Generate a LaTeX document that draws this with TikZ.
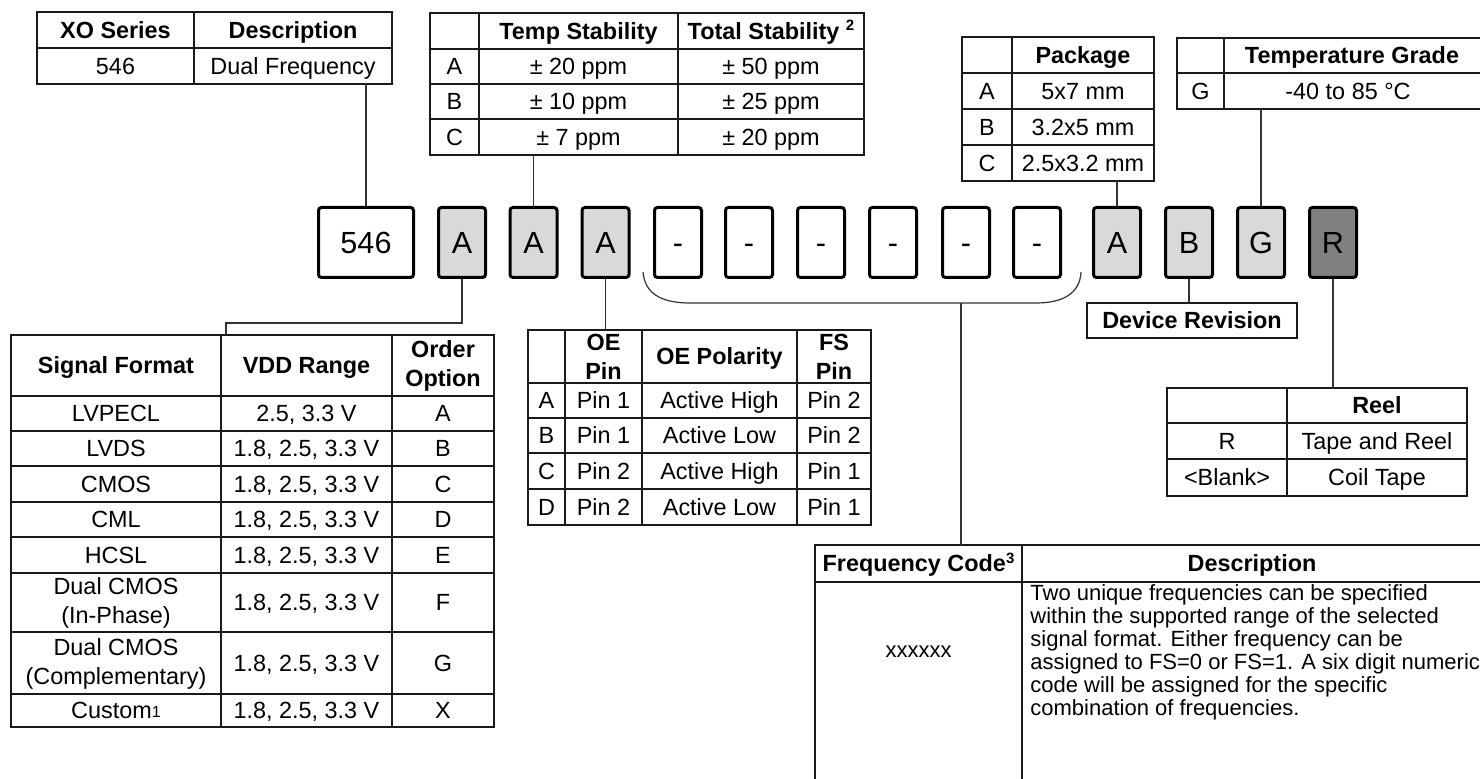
\documentclass[tikz,border=0pt]{standalone}
\usepackage{fontspec}
\setmainfont{Liberation Sans}
\usetikzlibrary{fit}
\definecolor{boxgray}{HTML}{D9D9D9}
\definecolor{boxdark}{HTML}{808080}
\definecolor{linec}{HTML}{1A1A1A}
\definecolor{connc}{HTML}{333333}
\newcommand\mybody{\fontsize{11.7}{14.5}\selectfont}
\newcommand\mycode{\fontsize{15.3}{18}\selectfont}
\newcommand\mydesc{\fontsize{11}{11.5}\selectfont}
\newcommand\mysup[1]{{\fontsize{7.5}{8}\selectfont\raisebox{4.2pt}{#1}}}
\begin{document}
\begin{tikzpicture}[x=0.5pt,y=-0.5pt,
  tline/.style={draw=linec,line width=0.7pt},
  tbox/.style={tline,inner sep=0pt,outer sep=0pt,fit={#1}},
  conn/.style={draw=connc,line width=0.6pt},
  cell/.style={inner sep=0pt,font=\mybody,text height=8.4pt,text depth=0pt},
  mcell/.style={inner sep=0pt,font=\mybody,align=center},
  hcell/.style={cell,font=\mybody\bfseries},
  mhcell/.style={mcell,font=\mybody\bfseries},
  code/.style={draw=black,line width=1.5pt,rounded corners=1.5pt,minimum width=23.5pt,minimum height=35pt,inner sep=0pt,font=\mycode,text height=10.9pt,text depth=0pt},
  gcode/.style={code,fill=boxgray}]
\clip (0,0) rectangle (1480,779);
\fill[white] (0,0) rectangle (1480,779);

% ---------- code boxes ----------
\node[code,minimum width=47.5pt] (b0) at (366,242.5) {546};
\node[gcode] (b1) at (462,242.5) {A};
\node[gcode] (b2) at (533.5,242.5) {A};
\node[gcode] (b3) at (605.5,242.5) {A};
\node[code] (d1) at (678,242.5) {-};
\node[code] (d2) at (749,242.5) {-};
\node[code] (d3) at (821,242.5) {-};
\node[code] (d4) at (893,242.5) {-};
\node[code] (d5) at (966,242.5) {-};
\node[code] (d6) at (1037,242.5) {-};
\node[gcode] (bA) at (1117,242.5) {A};
\node[gcode] (bB) at (1189,242.5) {B};
\node[gcode] (bG) at (1261,242.5) {G};
\node[code,fill=boxdark] (bR) at (1333,242.5) {R};

% ---------- XO series table ----------
\node[tbox={(37,12)(392,84)}] (xo) {};
\draw[tline] (194,12)--(194,84) (37,48)--(392,48);
\node[hcell] (xoh1) at (115.5,30) {XO Series};
\node[hcell] (xoh2) at (293,30) {Description};
\node[cell] (xo1) at (115.5,66) {546};
\node[cell] (xo2) at (293,66) {Dual Frequency};

% ---------- stability table ----------
\node[tbox={(430,13)(864,155)}] (ts) {};
\draw[tline] (479,13)--(479,155) (678,13)--(678,155)
  (430,49)--(864,49) (430,84)--(864,84) (430,119)--(864,119);
\node[hcell] (tsh1) at (578.5,31) {Temp Stability};
\node[hcell] (tsh2) at (771,31) {Total Stability \mysup{2}};
\node[cell] (tsa) at (454.5,66.5) {A};
\node[cell] (tsa1) at (578.5,66.5) {± 20 ppm};
\node[cell] (tsa2) at (771,66.5) {± 50 ppm};
\node[cell] (tsb) at (454.5,101.5) {B};
\node[cell] (tsb1) at (578.5,101.5) {± 10 ppm};
\node[cell] (tsb2) at (771,101.5) {± 25 ppm};
\node[cell] (tsc) at (454.5,137) {C};
\node[cell] (tsc1) at (578.5,137) {± 7 ppm};
\node[cell] (tsc2) at (771,137) {± 20 ppm};

% ---------- package table ----------
\node[tbox={(962,37)(1154,181)}] (pkg) {};
\draw[tline] (1012,37)--(1012,181) (962,73)--(1154,73) (962,109)--(1154,109) (962,145)--(1154,145);
\node[hcell] (pkgh) at (1083,55) {Package};
\node[cell] (pka) at (987,91) {A};
\node[cell] (pka1) at (1083,91) {5x7 mm};
\node[cell] (pkb) at (987,127) {B};
\node[cell] (pkb1) at (1083,127) {3.2x5 mm};
\node[cell] (pkc) at (987,163) {C};
\node[cell] (pkc1) at (1083,163) {2.5x3.2 mm};

% ---------- temperature grade table ----------
\node[tbox={(1177,38)(1482,109)}] (tg) {};
\draw[tline] (1224,38)--(1224,109) (1177,73)--(1482,73);
\node[hcell] (tgh) at (1352,55.5) {Temperature Grade};
\node[cell] (tgg) at (1200.5,91) {G};
\node[cell] (tgg1) at (1348,91) {-40 to 85 °C};

% ---------- signal format table ----------
\node[tbox={(11,335)(494,727)}] (sig) {};
\draw[tline] (221,335)--(221,727) (392,335)--(392,727)
  (11,396)--(494,396) (11,431)--(494,431) (11,466)--(494,466) (11,502)--(494,502)
  (11,537)--(494,537) (11,573)--(494,573) (11,632)--(494,632) (11,694)--(494,694);
\node[hcell] (sgh1) at (116,365.5) {Signal Format};
\node[hcell] (sgh2) at (306.5,365.5) {VDD Range};
\node[mhcell] (sgh3) at (443,366) {Order\\Option};
\node[cell] (sg1a) at (116,413.5) {LVPECL};
\node[cell] (sg1b) at (306.5,413.5) {2.5, 3.3 V};
\node[cell] (sg1c) at (443,413.5) {A};
\node[cell] (sg2a) at (116,448.5) {LVDS};
\node[cell] (sg2b) at (306.5,448.5) {1.8, 2.5, 3.3 V};
\node[cell] (sg2c) at (443,448.5) {B};
\node[cell] (sg3a) at (116,484) {CMOS};
\node[cell] (sg3b) at (306.5,484) {1.8, 2.5, 3.3 V};
\node[cell] (sg3c) at (443,484) {C};
\node[cell] (sg4a) at (116,519.5) {CML};
\node[cell] (sg4b) at (306.5,519.5) {1.8, 2.5, 3.3 V};
\node[cell] (sg4c) at (443,519.5) {D};
\node[cell] (sg5a) at (116,555) {HCSL};
\node[cell] (sg5b) at (306.5,555) {1.8, 2.5, 3.3 V};
\node[cell] (sg5c) at (443,555) {E};
\node[mcell] (sg6a) at (116,603) {Dual CMOS\\(In-Phase)};
\node[cell] (sg6b) at (306.5,602.5) {1.8, 2.5, 3.3 V};
\node[cell] (sg6c) at (443,602.5) {F};
\node[mcell] (sg7a) at (116,663.5) {Dual CMOS\\(Complementary)};
\node[cell] (sg7b) at (306.5,663) {1.8, 2.5, 3.3 V};
\node[cell] (sg7c) at (443,663) {G};
\node[cell] (sg8a) at (116,710.5) {Custom{\fontsize{8}{8}\selectfont\raisebox{0.8pt}{1}}};
\node[cell] (sg8b) at (306.5,710.5) {1.8, 2.5, 3.3 V};
\node[cell] (sg8c) at (443,710.5) {X};

% ---------- OE table ----------
\node[tbox={(528,330)(871,525)}] (oe) {};
\draw[tline] (565,330)--(565,525) (642,330)--(642,525) (797,330)--(797,525)
  (528,383)--(871,383) (528,418)--(871,418) (528,453)--(871,453) (528,489)--(871,489);
\node[mhcell] (oeh1) at (603.5,357) {OE\\Pin};
\node[hcell] (oeh2) at (719.5,356.5) {OE Polarity};
\node[mhcell] (oeh3) at (834,357) {FS\\Pin};
\node[cell] (oe1a) at (546.5,400.5) {A};
\node[cell] (oe1b) at (603.5,400.5) {Pin 1};
\node[cell] (oe1c) at (719.5,400.5) {Active High};
\node[cell] (oe1d) at (834,400.5) {Pin 2};
\node[cell] (oe2a) at (546.5,435.5) {B};
\node[cell] (oe2b) at (603.5,435.5) {Pin 1};
\node[cell] (oe2c) at (719.5,435.5) {Active Low};
\node[cell] (oe2d) at (834,435.5) {Pin 2};
\node[cell] (oe3a) at (546.5,471) {C};
\node[cell] (oe3b) at (603.5,471) {Pin 2};
\node[cell] (oe3c) at (719.5,471) {Active High};
\node[cell] (oe3d) at (834,471) {Pin 1};
\node[cell] (oe4a) at (546.5,507) {D};
\node[cell] (oe4b) at (603.5,507) {Pin 2};
\node[cell] (oe4c) at (719.5,507) {Active Low};
\node[cell] (oe4d) at (834,507) {Pin 1};

% ---------- device revision ----------
\node[tbox={(1087,303)(1297,338)}] (dev) {};
\node[hcell] (devt) at (1192,320.5) {Device Revision};

% ---------- reel table ----------
\node[tbox={(1167,388)(1467,496)}] (reel) {};
\draw[tline] (1287,388)--(1287,496) (1167,423)--(1467,423) (1167,459)--(1467,459);
\node[hcell] (reelh) at (1377,405.5) {Reel};
\node[cell] (re1a) at (1227,441) {R};
\node[cell] (re1b) at (1377,441) {Tape and Reel};
\node[cell] (re2a) at (1227,477.5) {<Blank>};
\node[cell] (re2b) at (1377,477.5) {Coil Tape};

% ---------- frequency code table ----------
\node[tbox={(815,545)(1482,830)}] (freq) {};
\draw[tline] (1022,545)--(1022,830) (815,582)--(1482,582);
\node[hcell] (frh1) at (918.5,563.5) {Frequency Code\mysup{3}};
\node[hcell] (frh2) at (1252,563.5) {Description};
\node[inner sep=0pt,font=\mydesc] (frx) at (918.5,652) {xxxxxx};
\node[anchor=west,align=left,inner sep=0pt,font=\mydesc] (frd) at (1030,652)
 {Two unique frequencies can be specified\\
  within the supported range of the selected\\
  signal format. Either frequency can be\\
  assigned to FS=0 or FS=1. A six digit numeric\\
  code will be assigned for the specific\\
  combination of frequencies.};

% ---------- connectors ----------
\draw[conn] (b0.north) -- (b0.north |- xo.south);
\draw[conn] (b2.north) -- (b2.north |- ts.south);
\draw[conn] (bA.north) -- (bA.north |- pkg.south);
\draw[conn] (bG.north) -- (bG.north |- tg.south);
\coordinate (sigc) at (226,323);
\draw[conn] (b1.south) |- (sigc) -- (sigc |- sig.north);
\draw[conn] (b3.south) -- (b3.south |- oe.north);
\draw[conn] (bB.south) -- (bB.south |- dev.north);
\draw[conn] (bR.south) -- (bR.south |- reel.north);
\coordinate (brL) at (643,272);
\coordinate (brR) at (1081,272);
\coordinate (brM) at (961,303);
\draw[conn] (brL) .. controls (645,296) and (665,303) .. (690,303) -- (1036,303)
  .. controls (1062,303) and (1080,294) .. (brR);
\draw[conn] (brM) -- (brM |- freq.north);
\end{tikzpicture}
\end{document}
